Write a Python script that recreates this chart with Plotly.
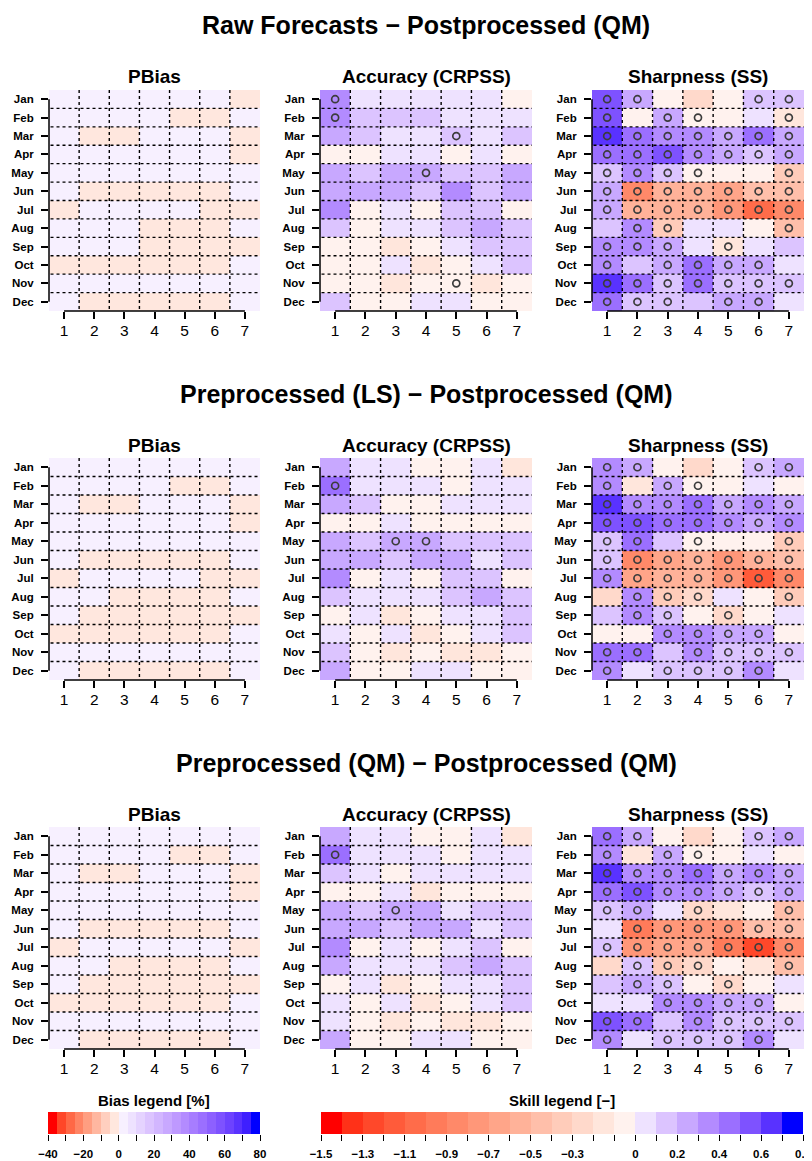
import plotly.graph_objects as go

# The page body has an 8px default margin: the figure is sized/positioned to compensate.
PAGE_W, PAGE_H, OFF = 812, 1161, 8
W, H = PAGE_W - OFF, PAGE_H - OFF
FONT = "Liberation Sans"

months = ["Jan", "Feb", "Mar", "Apr", "May", "Jun", "Jul", "Aug", "Sep", "Oct", "Nov", "Dec"]
leads = [1, 2, 3, 4, 5, 6, 7]

row_titles = ["Raw Forecasts \u2212 Postprocessed (QM)",
              "Preprocessed (LS) \u2212 Postprocessed (QM)",
              "Preprocessed (QM) \u2212 Postprocessed (QM)"]
panel_titles = ["PBias", "Accuracy (CRPSS)", "Sharpness (SS)"]

# ---------------- PBias [%] ----------------
pbias_raw = [
    [2.5, 2.5, 2.5, 2.5, 2.5, 2.5, -2.5],
    [2.5, 2.5, 2.5, 2.5, -2.5, -2.5, 2.5],
    [2.5, -2.5, -2.5, 2.5, 2.5, 2.5, -2.5],
    [2.5, 2.5, 2.5, 2.5, 2.5, 2.5, -2.5],
    [2.5, 2.5, 2.5, 2.5, 2.5, 2.5, 2.5],
    [2.5, -2.5, -2.5, -2.5, -2.5, -2.5, 2.5],
    [-2.5, 2.5, 2.5, 2.5, 2.5, -2.5, -2.5],
    [2.5, 2.5, 2.5, -2.5, -2.5, -2.5, 2.5],
    [2.5, 2.5, 2.5, -2.5, -2.5, -2.5, -2.5],
    [-2.5, -2.5, -2.5, -2.5, -2.5, -2.5, 2.5],
    [2.5, 2.5, 2.5, 2.5, 2.5, 2.5, 2.5],
    [2.5, -2.5, -2.5, -2.5, -2.5, -2.5, 2.5],
]
pbias_ls = [
    [2.5, 2.5, 2.5, 2.5, 2.5, 2.5, 2.5],
    [2.5, 2.5, 2.5, 2.5, -2.5, -2.5, 2.5],
    [2.5, -2.5, -2.5, 2.5, 2.5, 2.5, -2.5],
    [2.5, 2.5, 2.5, 2.5, 2.5, 2.5, -2.5],
    [2.5, 2.5, 2.5, 2.5, 2.5, 2.5, 2.5],
    [2.5, -2.5, -2.5, -2.5, -2.5, -2.5, 2.5],
    [-2.5, 2.5, 2.5, 2.5, 2.5, -2.5, -2.5],
    [2.5, 2.5, -2.5, -2.5, -2.5, -2.5, 2.5],
    [2.5, -2.5, -2.5, -2.5, -2.5, -2.5, -2.5],
    [-2.5, -2.5, -2.5, -2.5, -2.5, -2.5, 2.5],
    [2.5, 2.5, 2.5, 2.5, 2.5, 2.5, 2.5],
    [2.5, -2.5, -2.5, -2.5, -2.5, -2.5, 2.5],
]
pbias_qm = [
    [2.5, 2.5, 2.5, 2.5, 2.5, 2.5, 2.5],
    [2.5, 2.5, 2.5, 2.5, -2.5, -2.5, 2.5],
    [2.5, -2.5, -2.5, 2.5, 2.5, 2.5, -2.5],
    [2.5, 2.5, 2.5, 2.5, 2.5, 2.5, -2.5],
    [2.5, 2.5, 2.5, 2.5, 2.5, 2.5, 2.5],
    [2.5, -2.5, -2.5, -2.5, -2.5, -2.5, 2.5],
    [-2.5, 2.5, 2.5, 2.5, 2.5, 2.5, -2.5],
    [2.5, 2.5, -2.5, -2.5, -2.5, -2.5, 2.5],
    [2.5, -2.5, -2.5, -2.5, -2.5, -2.5, -2.5],
    [-2.5, -2.5, -2.5, -2.5, -2.5, -2.5, 2.5],
    [2.5, 2.5, 2.5, 2.5, 2.5, 2.5, 2.5],
    [2.5, -2.5, -2.5, -2.5, -2.5, -2.5, 2.5],
]

# ---------------- CRPSS ----------------
crpss_raw = [
    [0.35, 0.05, 0.05, 0.05, 0.05, 0.05, -0.05],
    [0.35, 0.15, 0.15, 0.15, 0.05, 0.05, 0.05],
    [0.25, 0.15, 0.05, 0.05, 0.15, 0.05, 0.15],
    [-0.05, -0.05, 0.05, 0.05, -0.05, 0.05, -0.05],
    [0.25, 0.15, 0.25, 0.25, 0.15, 0.15, 0.25],
    [0.25, 0.25, 0.25, 0.15, 0.35, 0.15, 0.25],
    [0.35, -0.05, 0.05, -0.05, 0.15, 0.15, -0.05],
    [0.15, -0.05, 0.05, 0.05, 0.15, 0.25, 0.15],
    [-0.05, -0.05, -0.15, -0.05, 0.05, 0.15, 0.15],
    [-0.05, -0.05, 0.05, -0.15, -0.05, 0.05, 0.15],
    [-0.05, -0.05, -0.15, -0.05, -0.05, -0.15, -0.05],
    [0.15, -0.05, -0.05, 0.05, 0.05, -0.05, -0.05],
]
crpss_raw_sig = [
    [1, 0, 0, 0, 0, 0, 0],
    [1, 0, 0, 0, 0, 0, 0],
    [0, 0, 0, 0, 1, 0, 0],
    [0, 0, 0, 0, 0, 0, 0],
    [0, 0, 0, 1, 0, 0, 0],
    [0, 0, 0, 0, 0, 0, 0],
    [0, 0, 0, 0, 0, 0, 0],
    [0, 0, 0, 0, 0, 0, 0],
    [0, 0, 0, 0, 0, 0, 0],
    [0, 0, 0, 0, 0, 0, 0],
    [0, 0, 0, 0, 1, 0, 0],
    [0, 0, 0, 0, 0, 0, 0],
]
crpss_ls = [
    [0.25, 0.05, 0.05, -0.05, -0.05, 0.05, -0.15],
    [0.45, 0.05, 0.05, 0.05, -0.05, 0.05, 0.05],
    [0.25, 0.15, -0.05, -0.05, 0.05, 0.05, 0.05],
    [-0.05, -0.05, 0.05, -0.05, -0.05, -0.05, -0.05],
    [0.25, 0.15, 0.25, 0.25, 0.15, 0.15, 0.15],
    [0.25, 0.25, 0.15, 0.25, 0.25, 0.05, 0.15],
    [0.35, -0.05, 0.05, -0.05, 0.15, 0.15, -0.05],
    [0.15, 0.05, 0.05, 0.05, 0.15, 0.25, 0.15],
    [-0.05, 0.05, -0.15, -0.05, 0.05, 0.05, 0.15],
    [0.05, -0.05, 0.05, -0.15, -0.05, 0.05, 0.15],
    [0.15, -0.05, -0.15, -0.05, -0.15, -0.15, -0.05],
    [0.25, -0.05, -0.05, 0.05, 0.05, -0.05, -0.05],
]
crpss_ls_sig = [
    [0, 0, 0, 0, 0, 0, 0],
    [1, 0, 0, 0, 0, 0, 0],
    [0, 0, 0, 0, 0, 0, 0],
    [0, 0, 0, 0, 0, 0, 0],
    [0, 0, 1, 1, 0, 0, 0],
    [0, 0, 0, 0, 0, 0, 0],
    [0, 0, 0, 0, 0, 0, 0],
    [0, 0, 0, 0, 0, 0, 0],
    [0, 0, 0, 0, 0, 0, 0],
    [0, 0, 0, 0, 0, 0, 0],
    [0, 0, 0, 0, 0, 0, 0],
    [0, 0, 0, 0, 0, 0, 0],
]
crpss_qm = [
    [0.25, 0.05, 0.05, -0.05, -0.05, 0.05, -0.15],
    [0.45, 0.05, 0.05, 0.05, -0.05, 0.05, 0.05],
    [0.15, 0.05, -0.05, 0.05, 0.05, 0.05, 0.05],
    [-0.05, -0.05, 0.05, -0.15, -0.05, -0.05, -0.05],
    [0.25, 0.15, 0.25, 0.25, 0.05, 0.15, 0.15],
    [0.25, 0.25, 0.15, 0.25, 0.25, 0.05, 0.15],
    [0.35, -0.05, 0.05, -0.05, 0.05, 0.15, -0.05],
    [0.25, 0.05, 0.05, 0.05, 0.15, 0.25, 0.15],
    [-0.05, 0.05, -0.15, -0.05, 0.05, 0.05, 0.15],
    [0.05, -0.05, 0.05, -0.15, -0.05, 0.05, 0.15],
    [0.05, -0.05, -0.15, -0.05, -0.15, -0.15, -0.05],
    [0.25, -0.05, -0.05, 0.05, 0.05, -0.05, -0.05],
]
crpss_qm_sig = [
    [0, 0, 0, 0, 0, 0, 0],
    [1, 0, 0, 0, 0, 0, 0],
    [0, 0, 0, 0, 0, 0, 0],
    [0, 0, 0, 0, 0, 0, 0],
    [0, 0, 1, 0, 0, 0, 0],
    [0, 0, 0, 0, 0, 0, 0],
    [0, 0, 0, 0, 0, 0, 0],
    [0, 0, 0, 0, 0, 0, 0],
    [0, 0, 0, 0, 0, 0, 0],
    [0, 0, 0, 0, 0, 0, 0],
    [0, 0, 0, 0, 0, 0, 0],
    [0, 0, 0, 0, 0, 0, 0],
]

# ---------------- Sharpness SS ----------------
ss_raw = [
    [0.55, 0.25, -0.05, -0.25, -0.05, 0.15, 0.15],
    [0.55, -0.05, 0.25, -0.05, -0.05, 0.05, -0.15],
    [0.65, 0.45, 0.35, 0.35, 0.25, 0.45, 0.25],
    [0.45, 0.45, 0.55, 0.35, 0.25, 0.15, 0.25],
    [0.15, 0.35, 0.15, -0.05, -0.05, -0.05, -0.35],
    [0.25, -0.85, -0.55, -0.55, -0.65, -0.45, -0.45],
    [0.25, -0.55, -0.55, -0.55, -0.75, -1.05, -0.85],
    [0.15, 0.35, -0.35, 0.05, 0.05, -0.05, -0.45],
    [0.35, 0.35, 0.25, 0.05, -0.15, 0.05, 0.15],
    [0.35, 0.15, 0.25, 0.45, 0.25, 0.25, 0.05],
    [0.65, 0.45, 0.15, 0.45, 0.15, 0.15, 0.15],
    [0.45, 0.15, 0.15, 0.15, 0.25, 0.25, 0.05],
]
ss_raw_sig = [
    [1, 1, 0, 0, 0, 1, 1],
    [1, 0, 1, 1, 0, 0, 1],
    [1, 1, 1, 1, 1, 1, 1],
    [1, 1, 1, 1, 1, 1, 1],
    [1, 1, 1, 1, 0, 0, 1],
    [1, 1, 1, 1, 1, 1, 1],
    [1, 1, 1, 1, 1, 1, 1],
    [0, 1, 1, 0, 0, 0, 1],
    [1, 1, 1, 0, 1, 0, 0],
    [1, 0, 1, 1, 1, 1, 0],
    [1, 1, 1, 1, 1, 1, 1],
    [1, 1, 1, 0, 1, 1, 0],
]
ss_ls = [
    [0.35, 0.25, -0.05, -0.25, -0.05, 0.15, 0.25],
    [0.35, -0.15, 0.25, -0.05, -0.05, 0.05, -0.05],
    [0.65, 0.35, 0.35, 0.45, 0.25, 0.35, 0.25],
    [0.55, 0.55, 0.45, 0.45, 0.35, 0.25, 0.35],
    [0.15, 0.45, 0.15, -0.05, -0.05, -0.05, -0.35],
    [0.15, -0.85, -0.65, -0.55, -0.75, -0.55, -0.45],
    [0.35, -0.65, -0.55, -0.55, -0.75, -1.15, -0.85],
    [-0.25, 0.35, -0.35, -0.25, 0.05, -0.05, -0.35],
    [0.15, 0.35, 0.15, -0.05, -0.25, -0.05, 0.05],
    [-0.05, -0.05, 0.35, 0.35, 0.25, 0.25, -0.05],
    [0.45, 0.45, 0.15, 0.35, 0.15, 0.15, 0.15],
    [0.35, 0.05, 0.15, 0.15, 0.15, 0.35, 0.05],
]
ss_ls_sig = [
    [1, 1, 0, 0, 0, 1, 1],
    [1, 0, 1, 1, 0, 0, 0],
    [1, 1, 1, 1, 1, 1, 1],
    [1, 1, 1, 1, 1, 1, 1],
    [1, 1, 0, 1, 0, 0, 1],
    [1, 1, 1, 1, 1, 1, 1],
    [1, 1, 1, 1, 1, 1, 1],
    [0, 1, 1, 1, 0, 0, 1],
    [0, 1, 1, 0, 1, 0, 0],
    [0, 0, 1, 1, 1, 1, 0],
    [1, 1, 0, 1, 1, 1, 1],
    [1, 0, 1, 1, 1, 1, 0],
]
ss_qm = [
    [0.45, 0.25, -0.05, -0.25, -0.05, 0.15, 0.25],
    [0.35, -0.15, 0.25, -0.05, -0.05, 0.05, -0.05],
    [0.65, 0.35, 0.35, 0.45, 0.25, 0.35, 0.25],
    [0.45, 0.55, 0.35, 0.35, 0.25, 0.15, 0.25],
    [0.15, 0.25, 0.05, -0.25, -0.15, -0.05, -0.45],
    [0.05, -0.95, -0.75, -0.75, -0.75, -0.45, -0.45],
    [0.15, -0.75, -0.65, -0.65, -0.95, -1.25, -0.85],
    [-0.25, 0.15, -0.35, -0.25, -0.05, -0.15, -0.45],
    [0.15, 0.25, 0.15, -0.05, -0.25, -0.05, 0.05],
    [0.05, 0.05, 0.35, 0.35, 0.25, 0.25, -0.05],
    [0.55, 0.45, 0.15, 0.35, 0.15, 0.15, 0.15],
    [0.35, 0.05, 0.15, 0.15, 0.15, 0.35, 0.05],
]
ss_qm_sig = [
    [1, 1, 0, 0, 0, 1, 1],
    [1, 0, 1, 1, 0, 0, 0],
    [1, 1, 1, 1, 1, 1, 1],
    [1, 1, 1, 1, 1, 1, 1],
    [1, 1, 0, 1, 0, 0, 1],
    [0, 1, 1, 1, 1, 1, 1],
    [1, 1, 1, 1, 1, 1, 1],
    [0, 1, 1, 1, 0, 0, 1],
    [0, 1, 1, 0, 1, 0, 0],
    [0, 0, 1, 1, 1, 1, 0],
    [1, 1, 0, 1, 1, 1, 1],
    [1, 0, 1, 1, 1, 1, 0],
]

# legend scales
bias_min, bias_max, bias_step = -40, 80, 5
bias_ticks = list(range(-40, 81, 10))
bias_labels = [-40, -20, 0, 20, 40, 60, 80]
skill_min, skill_max, skill_step = -1.5, 0.8, 0.1
skill_ticks = [round(-1.5 + 0.1 * i, 1) for i in range(24)]
skill_labels = [-1.5, -1.3, -1.1, -0.9, -0.7, -0.5, -0.3, 0.0, 0.2, 0.4, 0.6, 0.8]


# ---------------- colour helpers (Lab interpolation) ----------------
def _srgb_to_lab(rgb):
    def lin(c):
        c = c / 255.0
        return c / 12.92 if c <= 0.04045 else ((c + 0.055) / 1.055) ** 2.4
    r, g, b = (lin(v) for v in rgb)
    X = (0.4124 * r + 0.3576 * g + 0.1805 * b) / 0.95047
    Y = (0.2126 * r + 0.7152 * g + 0.0722 * b)
    Z = (0.0193 * r + 0.1192 * g + 0.9505 * b) / 1.08883
    def f(t):
        return t ** (1 / 3) if t > (6 / 29) ** 3 else t / (3 * (6 / 29) ** 2) + 4 / 29
    fx, fy, fz = f(X), f(Y), f(Z)
    return (116 * fy - 16, 500 * (fx - fy), 200 * (fy - fz))


def _lab_to_srgb(lab):
    L, a, b = lab
    fy = (L + 16) / 116
    fx = fy + a / 500
    fz = fy - b / 200
    def finv(t):
        return t ** 3 if t > 6 / 29 else 3 * (6 / 29) ** 2 * (t - 4 / 29)
    X = finv(fx) * 0.95047
    Y = finv(fy)
    Z = finv(fz) * 1.08883
    r = 3.2406 * X - 1.5372 * Y - 0.4986 * Z
    g = -0.9689 * X + 1.8758 * Y + 0.0415 * Z
    bb = 0.0557 * X - 0.2040 * Y + 1.0570 * Z
    def gam(c):
        c = max(0.0, min(1.0, c))
        return 12.92 * c if c <= 0.0031308 else 1.055 * c ** (1 / 2.4) - 0.055
    return tuple(int(round(255 * gam(c))) for c in (r, g, bb))


def lab_mix(c1, c2, t):
    l1, l2 = _srgb_to_lab(c1), _srgb_to_lab(c2)
    lab = tuple(l1[i] + (l2[i] - l1[i]) * t for i in range(3))
    return "rgb(%d,%d,%d)" % _lab_to_srgb(lab)


RED, WHITE, BLUE = (255, 0, 0), (255, 255, 255), (0, 0, 255)


def make_colors(n_red, n_blue):
    reds = [lab_mix(RED, WHITE, k / n_red) for k in range(n_red)]
    blues = [lab_mix(WHITE, BLUE, k / n_blue) for k in range(1, n_blue + 1)]
    return reds + blues


def discrete_scale(colors):
    n = len(colors)
    cs = []
    for i, c in enumerate(colors):
        cs.append([i / n, c])
        cs.append([(i + 1) / n, c])
    return cs


bias_cols = make_colors(8, 16)
skill_cols = make_colors(15, 8)
bias_cs = discrete_scale(bias_cols)
skill_cs = discrete_scale(skill_cols)

# ---------------- layout geometry (page pixels) ----------------
col_px = [(49, 260), (320, 532), (592, 804)]
row_px = [(90, 311), (458, 680), (827, 1049)]
main_title_y = [25, 394, 763]
panel_title_y = [76, 445, 814]


def dx(a, b):
    return [(a - OFF) / W, (b - OFF) / W]


def dy(top, bottom):
    return [1 - (bottom - OFF) / H, 1 - (top - OFF) / H]


def px(a):
    return (a - OFF) / W


def py(a):
    return 1 - (a - OFF) / H


panels = [
    [(pbias_raw, None, "bias"), (crpss_raw, crpss_raw_sig, "skill"), (ss_raw, ss_raw_sig, "skill")],
    [(pbias_ls, None, "bias"), (crpss_ls, crpss_ls_sig, "skill"), (ss_ls, ss_ls_sig, "skill")],
    [(pbias_qm, None, "bias"), (crpss_qm, crpss_qm_sig, "skill"), (ss_qm, ss_qm_sig, "skill")],
]

fig = go.Figure()
layout = dict(width=W, height=H, margin=dict(l=0, r=0, t=0, b=0, pad=0), autosize=False,
              paper_bgcolor="white", plot_bgcolor="white", showlegend=False,
              font=dict(family=FONT, color="black"))
shapes = []
annotations = []

idx = 0
for r in range(3):
    annotations.append(dict(text="<b>%s</b>" % row_titles[r], x=px(426), y=py(main_title_y[r]),
                            xref="paper", yref="paper", showarrow=False,
                            font=dict(size=25, family=FONT, color="black"),
                            xanchor="center", yanchor="middle"))
    for c in range(3):
        idx += 1
        xa = "x" if idx == 1 else "x%d" % idx
        ya = "y" if idx == 1 else "y%d" % idx
        z, sig, kind = panels[r][c]
        if kind == "bias":
            cs, zmin, zmax = bias_cs, bias_min, bias_max
        else:
            cs, zmin, zmax = skill_cs, skill_min, skill_max
        fig.add_trace(go.Heatmap(z=z, x=leads, y=list(range(1, 13)), colorscale=cs,
                                 zmin=zmin, zmax=zmax, showscale=False, hoverinfo="skip",
                                 xaxis=xa, yaxis=ya))
        if sig is not None:
            sx, sy = [], []
            for i in range(12):
                for j in range(7):
                    if sig[i][j]:
                        sx.append(leads[j])
                        sy.append(i + 1)
            fig.add_trace(go.Scatter(x=sx, y=sy, mode="markers", xaxis=xa, yaxis=ya,
                                     hoverinfo="skip",
                                     marker=dict(symbol="circle-open", size=7,
                                                 color="#3c3c3c", line=dict(width=1.7))))
        xkey = "xaxis" if idx == 1 else "xaxis%d" % idx
        ykey = "yaxis" if idx == 1 else "yaxis%d" % idx
        layout[xkey] = dict(domain=dx(*col_px[c]), anchor=ya, range=[0.5, 7.5],
                            tickvals=leads, ticktext=[str(v) for v in leads],
                            ticks="outside", ticklen=7, tickwidth=1.5, tickcolor="black",
                            showline=False, showgrid=False, zeroline=False, automargin=False,
                            ticklabelstandoff=-2,
                            tickfont=dict(size=15.5, family=FONT, color="black"),
                            fixedrange=True)
        layout[ykey] = dict(domain=dy(*row_px[r]), anchor=xa, range=[12.5, 0.5],
                            tickvals=list(range(1, 13)), ticktext=months,
                            ticks="outside", ticklen=7, tickwidth=1.5, tickcolor="black",
                            showline=False, showgrid=False, zeroline=False, automargin=False,
                            ticklabelstandoff=5,
                            tickfont=dict(size=11.5, family=FONT, color="black", weight="bold"),
                            fixedrange=True)
        # R-style axis lines (first to last tick)
        shapes.append(dict(type="line", xref=xa, yref=ya + " domain", x0=1, x1=7, y0=0, y1=0,
                           line=dict(color="black", width=1.5)))
        shapes.append(dict(type="line", xref=xa + " domain", yref=ya, x0=0, x1=0, y0=1, y1=12,
                           line=dict(color="black", width=1.5)))
        # dotted grid
        for gx in [1.5, 2.5, 3.5, 4.5, 5.5, 6.5]:
            shapes.append(dict(type="line", xref=xa, yref=ya, x0=gx, x1=gx, y0=0.5, y1=12.5,
                               line=dict(color="black", width=1.4, dash="dot")))
        for gy in [1.5 + k for k in range(11)]:
            shapes.append(dict(type="line", xref=xa, yref=ya, x0=0.55, x1=7.5, y0=gy, y1=gy,
                               line=dict(color="black", width=1.4, dash="dot")))
        annotations.append(dict(text="<b>%s</b>" % panel_titles[c],
                                x=px((col_px[c][0] + col_px[c][1]) / 2),
                                y=py(panel_title_y[r]), xref="paper", yref="paper",
                                showarrow=False, font=dict(size=19, family=FONT, color="black"),
                                xanchor="center", yanchor="middle"))

# ---------------- legends ----------------
bias_centers = [bias_min + bias_step * (k + 0.5) for k in range(len(bias_cols))]
skill_centers = [round(skill_min + skill_step * (k + 0.5), 3) for k in range(len(skill_cols))]

leg_specs = [
    (10, bias_centers, bias_cs, bias_min, bias_max, bias_ticks, bias_labels, (48, 260), "Bias legend [%]"),
    (11, skill_centers, skill_cs, skill_min, skill_max, skill_ticks, skill_labels, (321, 803), "Skill legend [\u2212]"),
]


def fmt(v):
    s = ("%g" % v)
    return s.replace("-", "\u2212")


for n, centers, cs, zmin, zmax, ticks, labels, (x0, x1), title in leg_specs:
    xa, ya = "x%d" % n, "y%d" % n
    fig.add_trace(go.Heatmap(z=[centers], x=centers, y=[0], colorscale=cs, zmin=zmin, zmax=zmax,
                             showscale=False, hoverinfo="skip", xaxis=xa, yaxis=ya))
    lab_set = [round(l, 3) for l in labels]
    ttext = [fmt(t) if round(t, 3) in lab_set else "" for t in ticks]
    layout["xaxis%d" % n] = dict(domain=dx(x0, x1), anchor=ya, range=[zmin, zmax],
                                 tickvals=ticks, ticktext=ttext, ticks="outside", ticklen=6,
                                 tickwidth=1.3, tickcolor="black", showgrid=False, zeroline=False,
                                 showline=False, automargin=False, ticklabelstandoff=3,
                                 tickfont=dict(size=11.5, family=FONT, color="black", weight="bold"),
                                 fixedrange=True)
    layout["yaxis%d" % n] = dict(domain=dy(1112, 1134), anchor=xa, range=[-0.5, 0.5],
                                 showticklabels=False, ticks="", showgrid=False, zeroline=False,
                                 automargin=False, fixedrange=True)
    annotations.append(dict(text="<b>%s</b>" % title, x=px((x0 + x1) / 2), y=py(1100),
                            xref="paper", yref="paper", showarrow=False,
                            font=dict(size=15, family=FONT, color="black"),
                            xanchor="center", yanchor="middle"))

layout["shapes"] = shapes
layout["annotations"] = annotations
fig.update_layout(**layout)
fig.write_html("out.html")
